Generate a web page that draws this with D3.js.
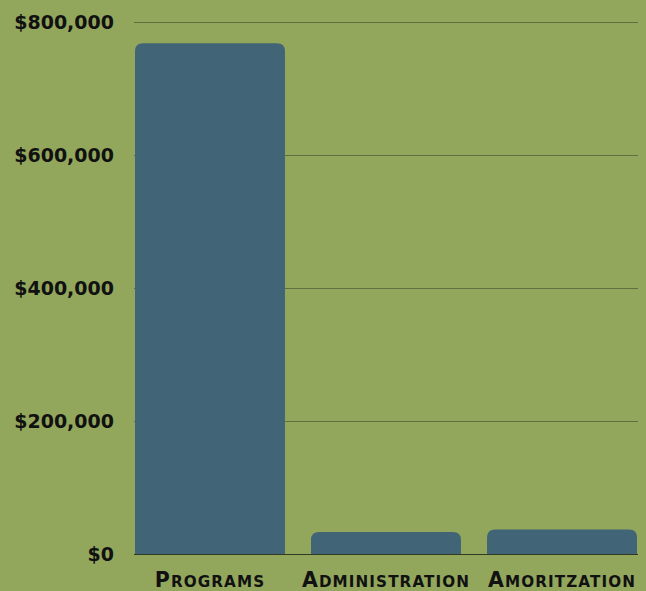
<!DOCTYPE html>
<html>
<head>
<meta charset="utf-8">
<script src="https://cdn.jsdelivr.net/npm/d3@7"></script>
<style>
  body { margin: 0; background: #93a75c; }
  svg { display: block; }
  .tick text { font-family: "DejaVu Sans", sans-serif; font-weight: bold; }
</style>
</head>
<body>
<div id="chart"></div>
<script>
var categories = ["Programs", "Administration", "Amoritzation"];
var values = [768000, 33000, 37000];
var yTicks = [0, 200000, 400000, 600000, 800000];

var W = 646, H = 591;
var margin = {top: 22, right: 9, bottom: 37, left: 135};
var width = W - margin.left - margin.right,
    height = H - margin.top - margin.bottom;

var svg = d3.select("#chart").append("svg")
    .attr("width", W)
    .attr("height", H);

var g = svg.append("g")
    .attr("transform", "translate(" + margin.left + "," + margin.top + ")");

var x = d3.scaleBand().domain(categories).range([0, width]).paddingInner(0.148).paddingOuter(0);
var y = d3.scaleLinear().domain([0, 800000]).range([height, 0]);

// gridlines
g.selectAll("line.grid")
    .data(yTicks.slice(1))
    .enter().append("line")
    .attr("class", "grid")
    .attr("x1", -1).attr("x2", width + 1)
    .attr("y1", function(d) { return y(d) + 0.5; })
    .attr("y2", function(d) { return y(d) + 0.5; })
    .attr("stroke", "#5e7040")
    .attr("stroke-width", 1);

// bars with rounded tops
var r = 8;
function barPath(d, i) {
  var x0 = x(categories[i]), x1 = x0 + x.bandwidth();
  var y0 = y(d), yb = y(0);
  return "M" + x0 + "," + yb +
         "V" + (y0 + r) +
         "Q" + x0 + "," + y0 + " " + (x0 + r) + "," + y0 +
         "H" + (x1 - r) +
         "Q" + x1 + "," + y0 + " " + x1 + "," + (y0 + r) +
         "V" + yb + "Z";
}
g.selectAll("path.bar")
    .data(values)
    .enter().append("path")
    .attr("class", "bar")
    .attr("d", barPath)
    .attr("fill", "#416576");

// baseline
g.append("line")
    .attr("x1", -1).attr("x2", width + 1)
    .attr("y1", y(0) + 0.5).attr("y2", y(0) + 0.5)
    .attr("stroke", "#2f3a22")
    .attr("stroke-width", 1);

// y axis labels
var yAxis = g.append("g")
    .call(d3.axisLeft(y).tickValues(yTicks).tickSize(0).tickPadding(21)
      .tickFormat(function(d) { return "$" + d3.format(",")(d); }));
yAxis.select(".domain").remove();
yAxis.selectAll("text")
    .attr("font-size", 19)
    .attr("fill", "#111");

// category labels, hand-made small caps
var xAxis = g.append("g")
    .attr("transform", "translate(0," + height + ")")
    .call(d3.axisBottom(x).tickSize(0).tickFormat(""));
xAxis.select(".domain").remove();
xAxis.selectAll(".tick text").each(function(d) {
  var t = d3.select(this)
      .attr("y", 33)
      .attr("dy", null)
      .attr("fill", "#111")
      .style("letter-spacing", "1.1px");
  t.append("tspan").attr("font-size", 20.5).text(d.charAt(0).toUpperCase());
  t.append("tspan").attr("font-size", 15.2).text(d.slice(1).toUpperCase());
});
</script>
</body>
</html>
